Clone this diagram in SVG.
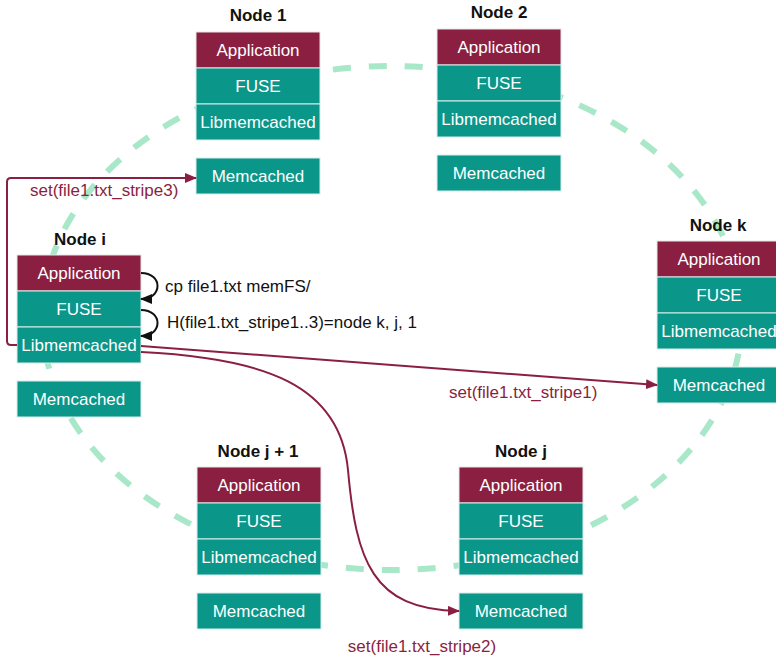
<svg xmlns="http://www.w3.org/2000/svg" width="776" height="658" viewBox="0 0 776 658">
<defs>
<style>
.app{fill:#8b1f41;stroke:#e6e6e6;stroke-width:1}
.teal{fill:#0b968a;stroke:#d8eeea;stroke-width:1}
.lbl{font-family:"Liberation Sans",Arial,sans-serif;font-size:17px;fill:#fff;text-anchor:middle}
.title{font-family:"Liberation Sans",Arial,sans-serif;font-size:17px;font-weight:bold;fill:#111;text-anchor:middle}
.red{font-family:"Liberation Sans",Arial,sans-serif;font-size:17px;fill:#8b1f41}
.blk{font-family:"Liberation Sans",Arial,sans-serif;font-size:17px;fill:#111}
.ra{fill:none;stroke:#8b1f41;stroke-width:2}
.ba{fill:none;stroke:#111;stroke-width:2}
</style>
<marker id="mr" viewBox="0 0 12 10" refX="11" refY="5" markerWidth="12" markerHeight="10" markerUnits="userSpaceOnUse" orient="auto"><path d="M0,0 L12,5 L0,10 z" fill="#8b1f41"/></marker>
<marker id="mb" viewBox="0 0 12 10" refX="11" refY="5" markerWidth="12" markerHeight="10" markerUnits="userSpaceOnUse" orient="auto"><path d="M0,0 L12,5 L0,10 z" fill="#111"/></marker>
<g id="stack">
<rect class="app" x="0" y="0" width="124" height="36"/>
<rect class="teal" x="0" y="36" width="124" height="36"/>
<rect class="teal" x="0" y="72" width="124" height="36"/>
<rect class="teal" x="0" y="126" width="124" height="36"/>
<text class="lbl" x="62" y="24">Application</text>
<text class="lbl" x="62" y="60">FUSE</text>
<text class="lbl" x="62" y="96">Libmemcached</text>
<text class="lbl" x="62" y="150">Memcached</text>
</g>
</defs>
<rect width="776" height="658" fill="#fff"/>
<ellipse id="ring" cx="392" cy="318" rx="350" ry="252" fill="none" stroke="#a9e7c9" stroke-width="6" stroke-dasharray="18 18"/>
<g id="node1"><text class="title" x="258" y="21">Node 1</text><use href="#stack" x="196" y="32"/></g>
<g id="node2"><text class="title" x="499" y="18">Node 2</text><use href="#stack" x="437" y="29"/></g>
<g id="nodek"><text class="title" x="718" y="231">Node k</text><use href="#stack" x="657" y="241"/></g>
<g id="nodei"><text class="title" x="80" y="245">Node i</text><use href="#stack" x="17" y="255"/></g>
<g id="nodej1"><text class="title" x="258" y="457">Node j + 1</text><use href="#stack" x="197" y="467"/></g>
<g id="nodej"><text class="title" x="521" y="457">Node j</text><use href="#stack" x="459" y="467"/></g>
<g id="connectors">
<path class="ra" d="M17,345 H11 Q7,345 7,341 V182 Q7,178 11,178 H196" marker-end="url(#mr)"/>
<path class="ra" d="M141,346 L657,385" marker-end="url(#mr)"/>
<path class="ra" d="M141,352 C265,358 340,385 348,470 C356,560 372,610 459,611" marker-end="url(#mr)"/>
<path class="ba" d="M141,273 C163,273 163,299 141,299" marker-end="url(#mb)"/>
<path class="ba" d="M141,310 C163,310 163,336 141,336" marker-end="url(#mb)"/>
<text class="red" x="30" y="196">set(file1.txt_stripe3)</text>
<text class="red" x="449" y="398">set(file1.txt_stripe1)</text>
<text class="red" x="422" y="652" text-anchor="middle">set(file1.txt_stripe2)</text>
<text class="blk" x="165" y="292">cp file1.txt memFS/</text>
<text class="blk" x="167" y="328">H(file1.txt_stripe1..3)=node k, j, 1</text>
</g>
</svg>
